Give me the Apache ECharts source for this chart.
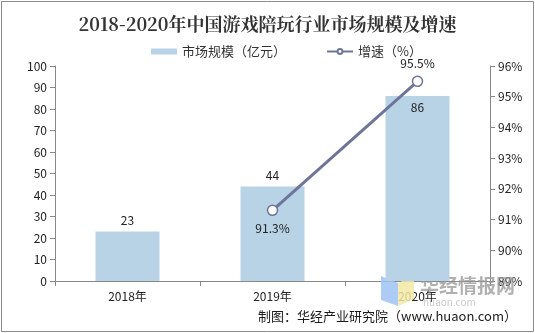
<!DOCTYPE html>
<html><head><meta charset="utf-8">
<script src="https://cdn.jsdelivr.net/npm/echarts@6/dist/echarts.min.js"></script>
<style>html,body{margin:0;padding:0;background:#fff}#c{width:535px;height:333px}</style>
</head><body><div id="c"></div>
<script>
const categories = ['2018年', '2019年', '2020年'];
const marketSize = [23, 44, 86];
const growthRate = [null, 91.3, 95.5];
const barLabelPos = ['top', 'top', 'insideTop'];
const lineLabelPos = ['top', 'bottom', 'top'];

const chart = echarts.init(document.getElementById('c'));
const font = '"Noto Sans CJK SC", "Liberation Sans", Arial, sans-serif';
chart.setOption({
  animation: false,
  textStyle: { fontFamily: font },
  graphic: [
    { type: 'rect', shape: { x: 1.5, y: 1.5, width: 532, height: 330 }, style: { fill: 'none', stroke: '#8c8c8c', lineWidth: 1 }, z: 100 },
    { type: 'polygon', shape: { points: [[381, 276], [398, 283], [398, 306], [381, 300]] }, style: { fill: '#9ec3f5', opacity: 0.85 }, z: 1 },
    { type: 'polygon', shape: { points: [[398, 283], [414, 276], [414, 299], [398, 306]] }, style: { fill: '#f3e9a6', opacity: 0.85 }, z: 1 },
    { type: 'text', left: 420, top: 276, style: { text: '华经情报网', font: 'bold 19px ' + font, fill: 'rgba(150,150,150,0.75)' }, z: 1 },
    { type: 'text', left: 423, top: 297, style: { text: 'huaon.com', font: '10px ' + font, fill: 'rgba(180,180,180,0.7)', letterSpacing: 4 }, z: 1 },
    { type: 'text', right: 18, top: 310, style: { text: '制图：华经产业研究院（www.huaon.com）', font: '13px ' + font, fill: '#1a1a1a' }, z: 10 }
  ],
  title: {
    text: '2018-2020年中国游戏陪玩行业市场规模及增速',
    left: 'center', top: 10,
    textStyle: { fontSize: 18, fontWeight: 'bold', color: '#333', fontFamily: '"Noto Serif CJK SC", "Noto Sans CJK SC", serif' }
  },
  legend: {
    top: 40, left: 146, itemGap: 40, itemWidth: 26, itemHeight: 6,
    textStyle: { fontSize: 13, color: '#333' },
    data: [
      { name: '市场规模（亿元）', icon: 'rect' },
      { name: '增速（%）' }
    ]
  },
  grid: { left: 55, right: 45, top: 66, bottom: 52, containLabel: false },
  xAxis: {
    type: 'category', data: categories,
    axisLine: { lineStyle: { color: '#888' } },
    axisTick: { show: true, alignWithLabel: false, lineStyle: { color: '#888' } },
    axisLabel: { color: '#222', fontSize: 12, margin: 9 }
  },
  yAxis: [
    {
      type: 'value', min: 0, max: 100, interval: 10,
      axisLine: { show: true, lineStyle: { color: '#888' } },
      axisTick: { show: true, lineStyle: { color: '#888' } },
      axisLabel: { color: '#222', fontSize: 12 },
      splitLine: { show: false }
    },
    {
      type: 'value', min: 89, max: 96, interval: 1,
      axisLine: { show: true, lineStyle: { color: '#888' } },
      axisTick: { show: true, lineStyle: { color: '#888' } },
      axisLabel: { color: '#222', fontSize: 12, formatter: v => v + '%' },
      splitLine: { show: false }
    }
  ],
  series: [
    {
      name: '市场规模（亿元）', type: 'bar', barWidth: 64,
      itemStyle: { color: '#b8d3e6' },
      data: marketSize.map((v, i) => ({ value: v, label: { position: barLabelPos[i] } })),
      label: { show: true, color: '#222', fontSize: 12, distance: 5 }
    },
    {
      name: '增速（%）', type: 'line', yAxisIndex: 1,
      symbol: 'circle', symbolSize: 10,
      lineStyle: { color: '#6e7598', width: 3 },
      itemStyle: { color: '#fff', borderColor: '#6e7598', borderWidth: 1.5 },
      data: growthRate.map((v, i) => ({ value: v, label: { position: lineLabelPos[i] } })),
      label: { show: true, color: '#222', fontSize: 12, distance: 6, formatter: p => p.value + '%' },
      z: 5
    }
  ]
});
</script></body></html>
